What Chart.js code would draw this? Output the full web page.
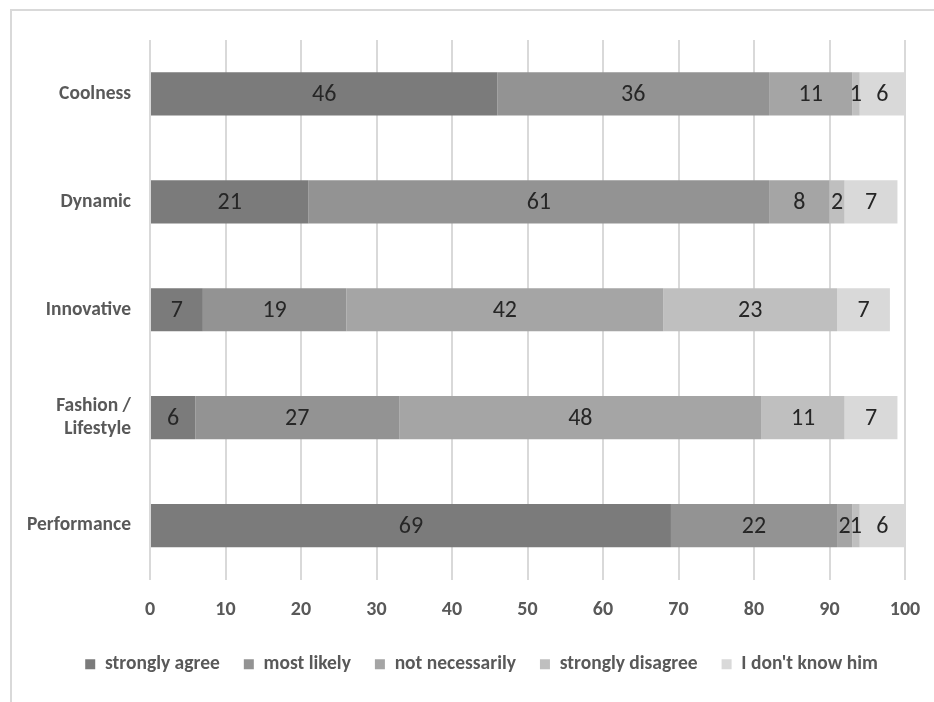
<!DOCTYPE html>
<html>
<head>
<meta charset="utf-8">
<script src="https://cdn.jsdelivr.net/npm/chart.js@4/dist/chart.umd.min.js"></script>
<style>
  html, body { margin: 0; padding: 0; background: #ffffff; }
  #wrap { position: relative; width: 934px; height: 702px; overflow: hidden; }
  #frame { position: absolute; left: 10px; top: 9px; width: 1000px; height: 800px;
           border-left: 2px solid #d9d9d9; border-top: 2px solid #d9d9d9; box-sizing: border-box; }
  #c { position: absolute; left: 0; top: 0; }
</style>
</head>
<body>
<div id="wrap">
  <div id="frame"></div>
  <canvas id="c" width="934" height="702"></canvas>
</div>
<script>
// Survey answers per attribute (percent of respondents)
const categories = ['Coolness', 'Dynamic', 'Innovative', ['Fashion /', 'Lifestyle'], 'Performance'];
const seriesNames = ['strongly agree', 'most likely', 'not necessarily', 'strongly disagree', "I don't know him"];
const stronglyAgree    = [46, 21, 7, 6, 69];
const mostLikely       = [36, 61, 19, 27, 22];
const notNecessarily   = [11, 8, 42, 48, 2];
const stronglyDisagree = [1, 2, 23, 11, 1];
const dontKnow         = [6, 7, 7, 7, 6];
const xTicks = [0, 10, 20, 30, 40, 50, 60, 70, 80, 90, 100];

const colors = ['#7b7b7b', '#939393', '#a5a5a5', '#bfbfbf', '#d9d9d9'];
const FONT = "Carlito, Lato, 'Liberation Sans', sans-serif";

const seriesValues = [stronglyAgree, mostLikely, notNecessarily, stronglyDisagree, dontKnow];

// Value written in the middle of each bar segment
const segmentLabels = {
  id: 'segmentLabels',
  afterDatasetsDraw(chart) {
    const ctx = chart.ctx;
    ctx.save();
    ctx.font = "normal 24px " + FONT;
    ctx.fillStyle = '#262626';
    ctx.textAlign = 'center';
    ctx.textBaseline = 'middle';
    chart.data.datasets.forEach((ds, di) => {
      const meta = chart.getDatasetMeta(di);
      if (meta.hidden) return;
      meta.data.forEach((bar, i) => {
        const p = bar.getProps(['x', 'y', 'base'], true);
        ctx.fillText(String(ds.data[i]), (p.x + p.base) / 2, p.y + 1);
      });
    });
    ctx.restore();
  }
};

// Centre the legend row under the whole frame rather than the plot width
const legendShift = {
  id: 'legendShift',
  afterLayout(chart) {
    if (chart.legend) {
      chart.legend.left += 29;
      chart.legend.right += 29;
    }
  }
};

new Chart(document.getElementById('c'), {
  type: 'bar',
  data: {
    labels: categories,
    datasets: seriesNames.map((name, k) => ({
      label: name,
      data: seriesValues[k],
      backgroundColor: colors[k],
      borderWidth: 0,
      categoryPercentage: 0.8,
      barPercentage: 0.5
    }))
  },
  options: {
    indexAxis: 'y',
    responsive: false,
    devicePixelRatio: 1,
    animation: false,
    layout: { padding: { top: 40, right: 29, left: 0, bottom: 18 } },
    scales: {
      x: {
        stacked: true,
        min: 0,
        max: 100,
        afterBuildTicks(scale) { scale.ticks = xTicks.map(v => ({ value: v })); },
        afterFit(scale) {
          scale.height = 51;
          scale.paddingLeft = 0;
          scale.paddingRight = 0;
        },
        grid: { color: '#d9d9d9', lineWidth: 2, drawTicks: false },
        border: { display: false },
        ticks: {
          padding: 18,
          color: '#595959',
          font: { family: FONT, size: 20, weight: 'bold' }
        }
      },
      y: {
        stacked: true,
        afterFit(scale) { scale.width = 150; },
        grid: { display: false, drawTicks: false },
        border: { display: false },
        ticks: {
          padding: 19,
          color: '#595959',
          font: { family: FONT, size: 19.5, weight: 'bold', lineHeight: 1.18 }
        }
      }
    },
    plugins: {
      tooltip: { enabled: false },
      legend: {
        position: 'bottom',
        labels: {
          boxWidth: 10,
          boxHeight: 10,
          padding: 24,
          color: '#595959',
          font: { family: FONT, size: 19.5, weight: 'bold' }
        }
      }
    }
  },
  plugins: [segmentLabels, legendShift]
});
</script>
</body>
</html>
